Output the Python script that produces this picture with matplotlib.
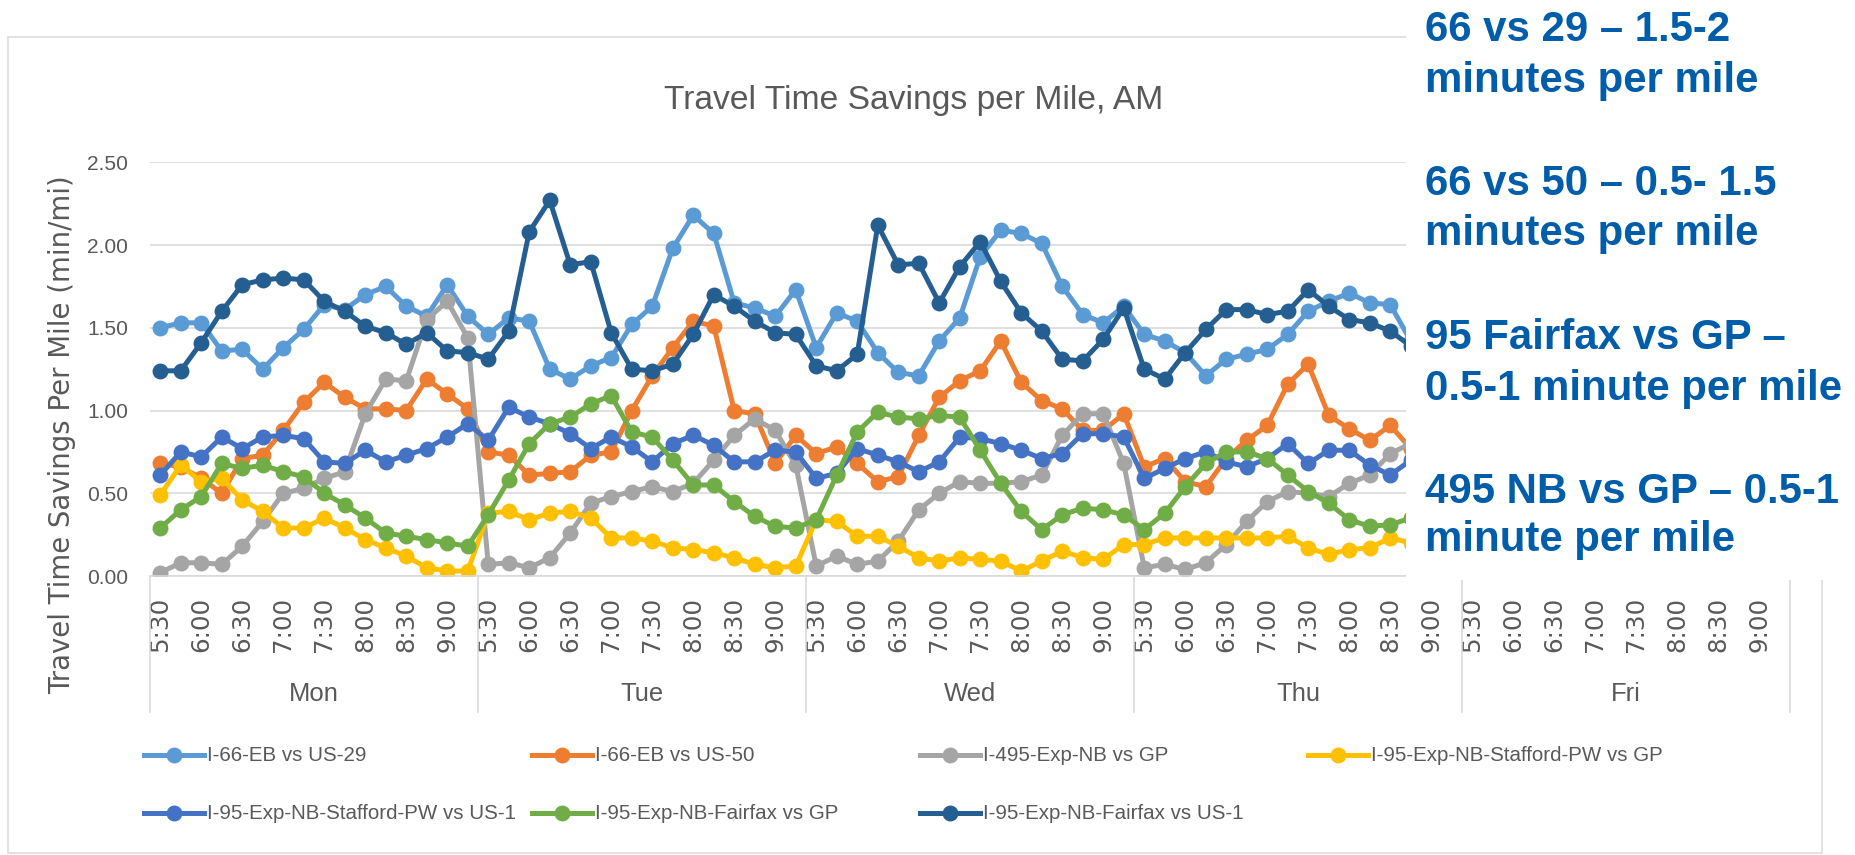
import numpy as np
import matplotlib
matplotlib.use("Agg")
import matplotlib.pyplot as plt
from matplotlib import font_manager
from matplotlib.lines import Line2D
from matplotlib.patches import Rectangle
from matplotlib.ticker import FormatStrFormatter

# ---- data -------------------------------------------------------------
days = ["Mon", "Tue", "Wed", "Thu", "Fri"]
slots = ["5:30", "5:45", "6:00", "6:15", "6:30", "6:45", "7:00", "7:15",
         "7:30", "7:45", "8:00", "8:15", "8:30", "8:45", "9:00", "9:15"]

# Mon, Tue, Wed (16 slots each), Thu up to 8:45 (rest hidden behind the box)
us29 = [1.50, 1.53, 1.53, 1.36, 1.37, 1.25, 1.38, 1.49, 1.64, 1.61, 1.70, 1.75, 1.63, 1.57, 1.76, 1.57,
        1.46, 1.56, 1.54, 1.25, 1.19, 1.27, 1.32, 1.52, 1.63, 1.98, 2.18, 2.07, 1.65, 1.62, 1.57, 1.73,
        1.38, 1.59, 1.54, 1.35, 1.23, 1.21, 1.42, 1.56, 1.93, 2.09, 2.07, 2.01, 1.75, 1.58, 1.53, 1.63,
        1.46, 1.42, 1.35, 1.21, 1.31, 1.34, 1.37, 1.46, 1.60, 1.66, 1.71, 1.65, 1.64, 1.42]
us50 = [0.68, 0.66, 0.59, 0.50, 0.71, 0.73, 0.88, 1.05, 1.17, 1.08, 1.01, 1.01, 1.00, 1.19, 1.10, 1.01,
        0.75, 0.73, 0.61, 0.62, 0.63, 0.73, 0.75, 1.00, 1.21, 1.38, 1.54, 1.51, 1.00, 0.98, 0.68, 0.85,
        0.74, 0.78, 0.68, 0.57, 0.60, 0.85, 1.08, 1.18, 1.24, 1.42, 1.17, 1.06, 1.01, 0.88, 0.88, 0.98,
        0.66, 0.71, 0.57, 0.54, 0.71, 0.82, 0.91, 1.16, 1.28, 0.97, 0.89, 0.82, 0.91, 0.77]
i495_gp = [0.02, 0.08, 0.08, 0.07, 0.18, 0.33, 0.50, 0.53, 0.59, 0.63, 0.98, 1.19, 1.18, 1.55, 1.66, 1.44,
           0.07, 0.08, 0.05, 0.11, 0.26, 0.44, 0.48, 0.51, 0.54, 0.51, 0.56, 0.70, 0.85, 0.95, 0.88, 0.67,
           0.06, 0.12, 0.07, 0.09, 0.21, 0.40, 0.50, 0.57, 0.56, 0.56, 0.57, 0.61, 0.85, 0.98, 0.98, 0.68,
           0.05, 0.07, 0.04, 0.08, 0.19, 0.33, 0.45, 0.51, 0.50, 0.48, 0.56, 0.61, 0.74, 0.80]
stafford_gp = [0.49, 0.67, 0.57, 0.59, 0.46, 0.39, 0.29, 0.29, 0.35, 0.29, 0.22, 0.17, 0.12, 0.05, 0.03, 0.03,
               0.38, 0.39, 0.34, 0.38, 0.39, 0.35, 0.23, 0.23, 0.21, 0.17, 0.16, 0.14, 0.11, 0.07, 0.05, 0.06,
               0.34, 0.33, 0.24, 0.24, 0.18, 0.11, 0.09, 0.11, 0.10, 0.09, 0.03, 0.09, 0.15, 0.11, 0.10, 0.19,
               0.19, 0.23, 0.23, 0.23, 0.23, 0.23, 0.23, 0.24, 0.17, 0.13, 0.16, 0.17, 0.23, 0.20]
stafford_us1 = [0.61, 0.75, 0.72, 0.84, 0.77, 0.84, 0.85, 0.83, 0.69, 0.68, 0.76, 0.69, 0.73, 0.77, 0.84, 0.92,
                0.82, 1.02, 0.96, 0.92, 0.86, 0.77, 0.84, 0.78, 0.69, 0.80, 0.85, 0.79, 0.69, 0.69, 0.76, 0.75,
                0.59, 0.62, 0.77, 0.73, 0.69, 0.63, 0.69, 0.84, 0.83, 0.80, 0.76, 0.71, 0.74, 0.86, 0.86, 0.84,
                0.59, 0.65, 0.71, 0.75, 0.69, 0.66, 0.71, 0.80, 0.68, 0.76, 0.76, 0.67, 0.61, 0.70]
fairfax_gp = [0.29, 0.40, 0.48, 0.68, 0.65, 0.67, 0.63, 0.60, 0.50, 0.43, 0.35, 0.26, 0.24, 0.22, 0.20, 0.18,
              0.37, 0.58, 0.80, 0.92, 0.96, 1.04, 1.09, 0.87, 0.84, 0.70, 0.55, 0.55, 0.45, 0.36, 0.30, 0.29,
              0.34, 0.61, 0.87, 0.99, 0.96, 0.95, 0.97, 0.96, 0.76, 0.56, 0.39, 0.28, 0.37, 0.41, 0.40, 0.37,
              0.28, 0.38, 0.54, 0.68, 0.75, 0.75, 0.71, 0.61, 0.51, 0.44, 0.34, 0.30, 0.31, 0.35]
fairfax_us1 = [1.24, 1.24, 1.41, 1.60, 1.76, 1.79, 1.80, 1.79, 1.66, 1.60, 1.51, 1.47, 1.40, 1.47, 1.36, 1.35,
               1.31, 1.48, 2.08, 2.27, 1.88, 1.90, 1.47, 1.25, 1.24, 1.28, 1.46, 1.70, 1.63, 1.54, 1.47, 1.46,
               1.27, 1.24, 1.34, 2.12, 1.88, 1.89, 1.65, 1.87, 2.02, 1.78, 1.59, 1.48, 1.31, 1.30, 1.43, 1.62,
               1.25, 1.19, 1.35, 1.49, 1.61, 1.61, 1.58, 1.60, 1.73, 1.63, 1.55, 1.53, 1.48, 1.39]

names = ["I-66-EB vs US-29", "I-66-EB vs US-50", "I-495-Exp-NB vs GP",
         "I-95-Exp-NB-Stafford-PW vs GP", "I-95-Exp-NB-Stafford-PW vs US-1",
         "I-95-Exp-NB-Fairfax vs GP", "I-95-Exp-NB-Fairfax vs US-1"]
series = [us29, us50, i495_gp, stafford_gp, stafford_us1, fairfax_gp, fairfax_us1]
colors = ["#5B9BD5", "#ED7D31", "#A5A5A5", "#FFC000", "#4472C4", "#70AD47", "#255E91"]

notes = [("66 vs 29 \u2013 1.5-2", "minutes per mile"),
         ("66 vs 50 \u2013 0.5- 1.5", "minutes per mile"),
         ("95 Fairfax vs GP \u2013", "0.5-1 minute per mile"),
         ("495 NB vs GP \u2013 0.5-1", "minute per mile")]

# ---- layout helpers (pixel based) ------------------------------------
W, H = 1856, 855
PT = 0.72  # points per pixel at dpi 100
GRAY = "#595959"
GRID = "#D9D9D9"
LW = 5.0 * PT
MS = 14.5 * PT

installed = {f.name for f in font_manager.fontManager.ttflist}
if "Liberation Sans Narrow" in installed:
    NARROW, NSCALE = "Liberation Sans Narrow", 1.0
else:
    NARROW, NSCALE = "Liberation Sans", 0.82


def fx(px):
    return px / W


def fy(py):
    return 1 - py / H


fig = plt.figure(figsize=(W / 100, H / 100), dpi=100)

# chart frame
fig.add_artist(Rectangle((fx(8), fy(853)), fx(1822 - 8), (853 - 37) / H, fill=False,
                         edgecolor=GRID, lw=1.5 * PT, transform=fig.transFigure, zorder=-1))

ax_left, ax_right, ax_top, ax_bot = 150, 1790, 162.3, 576
ax = fig.add_axes([fx(ax_left), fy(ax_bot), (ax_right - ax_left) / W, (ax_bot - ax_top) / H])
ax.set_facecolor("none")

n_slots = len(slots)
for vals, col in zip(series, colors):
    x = np.arange(len(vals))
    ax.plot(x, vals, color=col, lw=LW, marker="o", ms=MS,
            solid_joinstyle="round", solid_capstyle="round")

ax.set_xlim(-0.5, n_slots * len(days) - 0.5)
ax.set_ylim(0, 2.5)
ax.set_yticks(np.arange(0, 2.51, 0.5))
ax.yaxis.set_major_formatter(FormatStrFormatter("%.2f"))
ax.yaxis.grid(True, color=GRID, lw=1.6 * PT)
ax.set_axisbelow(True)
for s in ["left", "right", "top"]:
    ax.spines[s].set_visible(False)
ax.spines["bottom"].set_color(GRID)
ax.spines["bottom"].set_linewidth(1.6 * PT)

tick_pos = [d * n_slots + k for d in range(len(days)) for k in range(0, n_slots, 2)]
tick_lab = [slots[k] for d in range(len(days)) for k in range(0, n_slots, 2)]
ax.set_xticks(tick_pos)
ax.set_xticklabels(tick_lab, rotation=90, fontsize=24.6 * PT, color=GRAY, family="DejaVu Sans")
ax.tick_params(axis="x", length=0, pad=21 * PT)
ax.tick_params(axis="y", length=0, pad=22 * PT, labelcolor=GRAY)
for lab in ax.get_yticklabels():
    lab.set_family(NARROW)
    lab.set_fontsize(25.6 * PT * NSCALE)

# day groups under the time labels
xt = ax.get_xaxis_transform()
span = ax_bot - ax_top
for k in range(len(days) + 1):
    ax.plot([k * n_slots - 0.5] * 2, [0, (ax_bot - 712) / span], transform=xt,
            color=GRID, lw=1.6 * PT, clip_on=False)
for d, day in enumerate(days):
    ax.text(d * n_slots + (n_slots - 1) / 2, (ax_bot - 701) / span, day, transform=xt,
            ha="center", va="baseline", color=GRAY, family=NARROW, fontsize=25.6 * PT)

# titles
fig.text(fx(914), fy(109), "Travel Time Savings per Mile, AM", ha="center", va="baseline",
         color=GRAY, family=NARROW, fontsize=41 * PT * NSCALE)
fig.text(fx(62), fy(435), "Travel Time Savings Per Mile (min/mi)", rotation=90,
         ha="center", va="center", color=GRAY, family="DejaVu Sans", fontsize=27.5 * PT)

# legend, Excel style: 4 equal columns, row major
for j, (name, col) in enumerate(zip(names, colors)):
    x0 = 144 + 388 * (j % 4)
    y0 = [755, 813][j // 4]
    fig.add_artist(Line2D([fx(x0), fx(x0 + 60)], [fy(y0)] * 2, color=col, lw=LW,
                          transform=fig.transFigure))
    fig.add_artist(Line2D([fx(x0 + 30)], [fy(y0)], color=col, marker="o", ms=MS,
                          transform=fig.transFigure))
    fig.text(fx(x0 + 63), fy(y0), name, ha="left", va="center", color=GRAY,
             family=NARROW, fontsize=25 * PT * NSCALE)

# white call-out box that sits over the right part of the chart
fig.add_artist(Rectangle((fx(1406), fy(580)), 1 - fx(1406), 580 / H, facecolor="white",
                         edgecolor="none", transform=fig.transFigure, zorder=5))
baselines = [(41, 92), (195, 245), (349, 400), (503, 551)]
for (l1, l2), (b1, b2) in zip(notes, baselines):
    for txt, b in ((l1, b1), (l2, b2)):
        fig.text(fx(1425), fy(b), txt, ha="left", va="baseline", color="#005DAA",
                 family="Liberation Sans", weight="bold", fontsize=42 * PT, zorder=6)

fig.savefig("out.png", dpi=100)
